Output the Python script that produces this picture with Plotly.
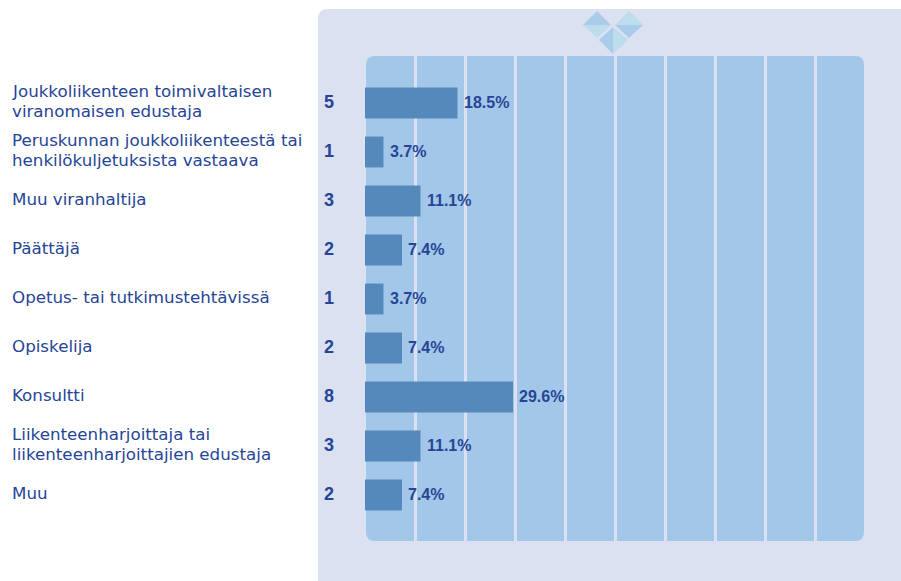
import plotly.graph_objects as go

# Data
categories = [
    "Joukkoliikenteen toimivaltaisen<br>viranomaisen edustaja",
    "Peruskunnan joukkoliikenteestä tai<br>henkilökuljetuksista vastaava",
    "Muu viranhaltija",
    "Päättäjä",
    "Opetus- tai tutkimustehtävissä",
    "Opiskelija",
    "Konsultti",
    "Liikenteenharjoittaja tai<br>liikenteenharjoittajien edustaja",
    "Muu",
]
counts = [5, 1, 3, 2, 1, 2, 8, 3, 2]
percents = [18.5, 3.7, 11.1, 7.4, 3.7, 7.4, 29.6, 11.1, 7.4]

WIDTH, HEIGHT = 901, 581
LEFT, RIGHT, TOP, BOTTOM = 365, 36, 56, 40
PLOT_W = WIDTH - LEFT - RIGHT
PLOT_H = HEIGHT - TOP - BOTTOM
LINE_GAP = 20

PANEL = "#dbe1f1"
PLOT_BG = "#a3c7e8"
BAR = "#5589bc"
TEXT = "#264596"
LOGO_DARK = "#a8cce9"
LOGO_LIGHT = "#bddcec"
FONT = "Liberation Sans"
LABEL_FONT = "DejaVu Sans"


def px(x, y):
    """Window pixels to paper coordinates"""
    return (x - LEFT) / PLOT_W, 1 - (y - TOP) / PLOT_H


def path(points):
    return "M " + " L ".join("%f,%f" % px(*p) for p in points) + " Z"


def rounded_rect(x0, y0, x1, y1, r):
    a = "M %f,%f " % px(x0 + r, y0)
    a += "L %f,%f " % px(x1 - r, y0)
    a += "Q %f,%f %f,%f " % (*px(x1, y0), *px(x1, y0 + r))
    a += "L %f,%f " % px(x1, y1 - r)
    a += "Q %f,%f %f,%f " % (*px(x1, y1), *px(x1 - r, y1))
    a += "L %f,%f " % px(x0 + r, y1)
    a += "Q %f,%f %f,%f " % (*px(x0, y1), *px(x0, y1 - r))
    a += "L %f,%f " % px(x0, y0 + r)
    a += "Q %f,%f %f,%f Z" % (*px(x0, y0), *px(x0 + r, y0))
    return a


def shape(d, color):
    return dict(type="path", xref="paper", yref="paper", path=d,
                fillcolor=color, line_width=0, layer="below")


shapes = [
    shape(rounded_rect(318, 9, 920, 600, 10), PANEL),
    shape(rounded_rect(366, 56, 864, 541, 9), PLOT_BG),
    # logo
    shape(path([(583, 25), (597, 11), (611, 25)]), LOGO_DARK),
    shape(path([(583, 25), (597, 38), (611, 25)]), LOGO_LIGHT),
    shape(path([(615, 25), (629, 11), (643, 25)]), LOGO_LIGHT),
    shape(path([(615, 25), (629, 38), (643, 25)]), LOGO_DARK),
    shape(path([(613, 27), (599, 40), (613, 54)]), LOGO_DARK),
    shape(path([(613, 27), (628, 40), (613, 54)]), LOGO_LIGHT),
]

fig = go.Figure(go.Bar(
    x=percents,
    y=categories,
    orientation="h",
    width=0.63,
    marker=dict(color=BAR, line_width=0),
    hovertemplate="%{y}<br>%{x}%<extra></extra>",
))

annotations = []
for cat, n, p in zip(categories, counts, percents):
    # two-line labels sit closer together than plotly's line height
    lines = cat.split("<br>")
    for i, line in enumerate(lines):
        annotations.append(dict(
            xref="paper", yref="y", x=px(10, 0)[0], y=cat, text=line,
            yshift=2 - LINE_GAP * (i - (len(lines) - 1) / 2),
            xanchor="left", yanchor="middle", align="left", showarrow=False,
            font=dict(family=LABEL_FONT, size=16.7, color=TEXT),
        ))
    annotations.append(dict(
        xref="paper", yref="y", x=px(329, 0)[0], y=cat, text=str(n), yshift=1,
        xanchor="center", yanchor="middle", showarrow=False,
        font=dict(family=FONT, size=18, color=TEXT, weight="bold"),
    ))
    annotations.append(dict(
        xref="x", yref="y", x=p, y=cat, text="%.1f%%" % p, xshift=4,
        xanchor="left", yanchor="middle", showarrow=False,
        font=dict(family=FONT, size=16, color=TEXT, weight="bold"),
    ))

fig.update_layout(
    width=WIDTH,
    height=HEIGHT,
    margin=dict(l=LEFT, r=RIGHT, t=TOP, b=BOTTOM, pad=0),
    paper_bgcolor="white",
    plot_bgcolor="rgba(0,0,0,0)",
    showlegend=False,
    shapes=shapes,
    annotations=annotations,
)
fig.update_xaxes(range=[0, 100], dtick=10, showgrid=True, gridcolor=PANEL,
                 gridwidth=2.5, zeroline=False, showticklabels=False,
                 showline=False, ticks="")
fig.update_yaxes(type="category", categoryorder="array", categoryarray=categories,
                 range=[8.939, -0.959], showgrid=False, zeroline=False,
                 showticklabels=False, showline=False, ticks="")

# the page's default body margin would push the figure 8px in
fig.write_html("out.html", config=dict(displayModeBar=False),
               post_script="document.body.style.margin='0';document.body.style.overflow='hidden';")
